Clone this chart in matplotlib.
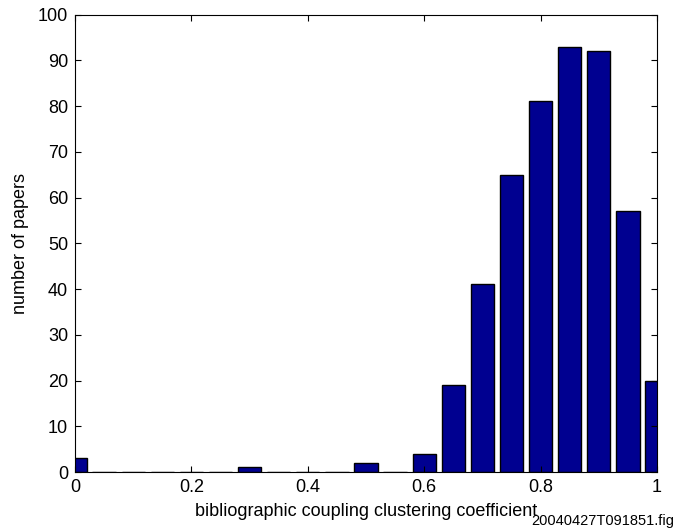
import matplotlib
matplotlib.use("Agg")
import matplotlib.pyplot as plt

plt.rcParams['font.family'] = ['Liberation Sans', 'DejaVu Sans']

centers = [0.0, 0.05, 0.1, 0.15, 0.2, 0.25, 0.3, 0.35, 0.4, 0.45, 0.5,
           0.55, 0.6, 0.65, 0.7, 0.75, 0.8, 0.85, 0.9, 0.95, 1.0]
counts = [3, 0, 0, 0, 0, 0, 1, 0, 0, 0, 2,
          0, 4, 19, 41, 65, 81, 93, 92, 57, 20]
xticks = [0, 0.2, 0.4, 0.6, 0.8, 1]
xticklabels = ['0', '0.2', '0.4', '0.6', '0.8', '1']
yticks = list(range(0, 101, 10))

fig = plt.figure(figsize=(6.78, 5.31), dpi=100)
ax = fig.add_axes([0.1106, 0.111, 0.8584, 0.8616])
ax.bar(centers, counts, width=0.04, color='#000090', edgecolor='black', linewidth=1.0)
ax.set_xlim(0, 1)
ax.set_ylim(0, 100)
ax.set_xticks(xticks)
ax.set_xticklabels(xticklabels)
ax.set_yticks(yticks)
ax.tick_params(direction='in', top=True, right=True, labelsize=13, length=4, width=0.8, pad=5)
for s in ax.spines.values():
    s.set_linewidth(0.8)
ax.set_xlabel('bibliographic coupling clustering coefficient', fontsize=13, labelpad=5)
ax.set_ylabel('number of papers', fontsize=13, labelpad=6)
fig.text(0.995, 0.005, '20040427T091851.fig', ha='right', va='bottom', fontsize=10.5)
fig.savefig('out.png', dpi=100)
